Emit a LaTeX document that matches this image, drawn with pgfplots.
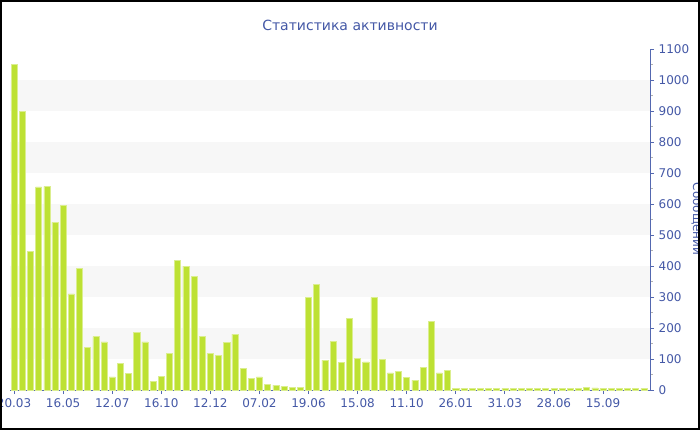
\documentclass[border=0pt]{standalone}
\usepackage{fontspec}
\setmainfont{DejaVu Sans}
\usepackage{pgfplots}
\pgfplotsset{compat=1.18}
\definecolor{txtblue}{HTML}{4458A6}
\definecolor{axblue}{HTML}{5468B0}
\definecolor{barg}{HTML}{BDE133}
\definecolor{band}{HTML}{F7F7F7}

\begin{document}
\begin{tikzpicture}[x=0.75pt,y=0.75pt]
\useasboundingbox (0,0) rectangle (700,430);
\begin{axis}[
    at={(7.5pt,30pt)}, anchor=south west,
    scale only axis, width=480pt, height=255.75pt,
    xmin=0.5, xmax=78.75, ymin=0, ymax=1100,
    axis x line*=bottom, axis y line*=right,
    axis line style={axblue, line width=0.75pt},
    ytick={0,100,...,1100}, minor y tick num=1,
    xtick={1,7,...,73},
    xticklabels={20.03,16.05,12.07,16.10,12.12,07.02,19.06,15.08,11.10,26.01,31.03,28.06,15.09},
    tick align=outside,
    major tick length=3pt, minor tick length=2pt,
    major tick style={axblue, line width=0.6pt},
    minor tick style={gray!60, line width=0.6pt},
    ticklabel style={font=\fontsize{9}{10}\selectfont, text=txtblue},
    /pgf/number format/assume math mode=true,
    /pgf/number format/1000 sep={},
]
\fill[band] (axis cs:0.5,100) rectangle (axis cs:78.75,200);
\fill[band] (axis cs:0.5,300) rectangle (axis cs:78.75,400);
\fill[band] (axis cs:0.5,500) rectangle (axis cs:78.75,600);
\fill[band] (axis cs:0.5,700) rectangle (axis cs:78.75,800);
\fill[band] (axis cs:0.5,900) rectangle (axis cs:78.75,1000);
\addplot[ybar, bar width=0.74, fill=barg, draw=barg!55!white, line width=0.4pt] coordinates {
(1,1050) (2,900) (3,446) (4,655) (5,657) (6,541) (7,596) (8,310) (9,393) (10,137)
(11,172) (12,155) (13,42) (14,86) (15,54) (16,185) (17,155) (18,29) (19,43) (20,118)
(21,419) (22,400) (23,366) (24,174) (25,118) (26,111) (27,154) (28,180) (29,70) (30,38)
(31,42) (32,19) (33,16) (34,11) (35,8) (36,9) (37,300) (38,341) (39,96) (40,158)
(41,90) (42,232) (43,103) (44,91) (45,299) (46,100) (47,55) (48,59) (49,40) (50,32)
(51,72) (52,222) (53,55) (54,63) (55,5) (56,5) (57,4) (58,5) (59,4) (60,5)
(61,5) (62,4) (63,5) (64,4) (65,5) (66,5) (67,4) (68,5) (69,4) (70,5)
(71,9) (72,7) (73,5) (74,4) (75,5) (76,4) (77,5) (78,5)
};
\end{axis}
\node[text=txtblue, font=\fontsize{10.5}{12}\selectfont] at (350,405) {Статистика активности};
\node[text=txtblue, font=\fontsize{9}{10}\selectfont, rotate=-90] at (697,211) {Сообщений};
\draw[black, line width=1.5pt] (1,1) rectangle (699,429);
\end{tikzpicture}
\end{document}
